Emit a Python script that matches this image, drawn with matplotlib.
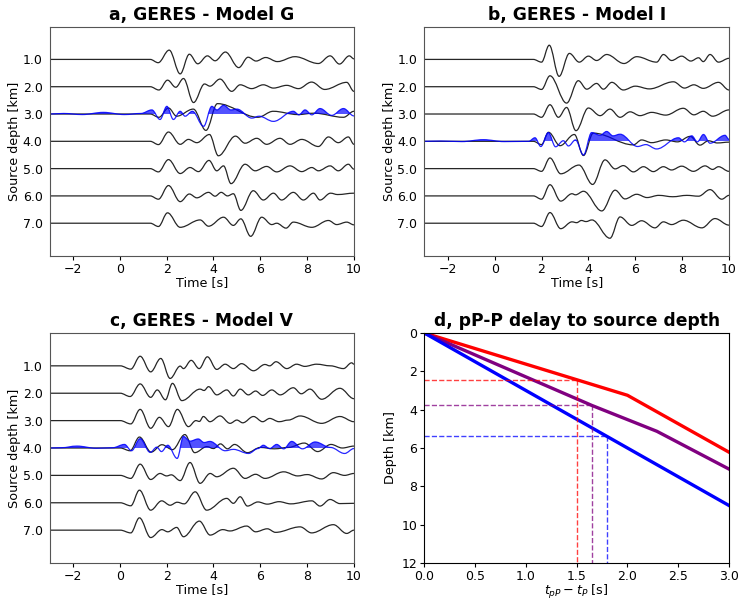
import matplotlib
matplotlib.use("Agg")
import matplotlib.pyplot as plt
from matplotlib.path import Path
from matplotlib.patches import PathPatch, Rectangle

# ---------------- data ----------------
depths = [1.0, 2.0, 3.0, 4.0, 5.0, 6.0, 7.0]
time_ticks = [-2, 0, 2, 4, 6, 8, 10]

# Panel a, GERES - Model G : synthetic traces (extrema times [s], amplitudes [trace spacing units])
a1_t = [-3, 1.30, 1.64, 2.11, 2.58, 2.97, 3.33, 3.74, 4.07, 4.51, 5.08, 5.48, 5.82, 6.23, 6.73, 7.48, 8.48, 8.98, 9.38, 9.80, 10.0]
a1_a = [0, 0, -0.12, 0.34, -0.53, 0.19, -0.16, 0.13, -0.05, 0.27, -0.30, 0.08, -0.06, 0.07, -0.08, 0.10, -0.15, 0.13, -0.17, 0.13, 0.02]
a2_t = [-3, 1.30, 1.67, 2.04, 2.39, 2.72, 3.15, 3.62, 3.85, 4.28, 4.78, 5.14, 5.63, 6.13, 6.56, 7.13, 7.63, 8.19, 8.75, 9.69, 10.0]
a2_a = [0, 0, -0.12, 0.24, -0.02, 0.30, -0.58, 0.10, 0.02, 0.28, -0.17, 0.07, -0.07, 0.07, -0.05, 0.05, -0.07, 0.17, -0.10, 0.16, -0.17]
a3_t = [-3, 1.30, 1.67, 2.08, 2.43, 3.14, 3.68, 4.17, 5.90, 6.55, 7.60, 8.30, 9.55, 10.0]
a3_a = [0, 0, -0.12, 0.22, -0.08, 0.18, -0.60, 0.38, -0.12, 0.10, -0.02, 0.03, -0.12, 0.10]
a4_t = [-3, 1.30, 1.65, 2.08, 2.58, 2.93, 3.29, 3.83, 4.21, 4.94, 5.35, 5.85, 6.27, 6.84, 7.27, 7.77, 8.48, 8.91, 9.33, 9.76, 10.0]
a4_a = [0, 0, -0.12, 0.34, -0.11, 0.07, -0.05, 0.25, -0.53, 0.19, -0.07, 0.11, -0.11, 0.11, -0.11, 0.07, -0.19, 0.16, -0.05, 0.16, -0.11]
a5_t = [-3, 1.30, 1.65, 2.08, 2.58, 3.00, 3.36, 3.81, 4.14, 4.43, 4.75, 5.35, 5.78, 6.27, 6.70, 7.27, 7.77, 8.20, 8.48, 8.98, 9.33, 9.76, 10.0]
a5_a = [0, 0, -0.12, 0.33, -0.18, 0.04, -0.11, 0.30, -0.08, 0.10, -0.55, 0.16, -0.08, 0.08, -0.12, 0.10, -0.11, 0.04, -0.08, 0.10, -0.08, 0.16, -0.02]
a6_t = [-3, 1.30, 1.65, 2.08, 2.58, 2.97, 3.29, 3.79, 4.07, 4.33, 4.60, 4.85, 5.17, 5.70, 6.13, 6.56, 6.91, 7.41, 7.84, 8.27, 8.55, 9.00, 9.30, 10.0]
a6_a = [0, 0, -0.12, 0.38, -0.21, 0.07, -0.07, 0.13, -0.01, 0.13, 0.00, 0.08, -0.53, 0.19, -0.15, 0.10, -0.15, 0.13, -0.15, 0.10, -0.15, 0.10, 0.05, 0.10]
a7_t = [-3, 1.30, 1.65, 2.04, 2.58, 3.43, 3.79, 4.43, 4.85, 5.17, 5.59, 6.06, 6.49, 6.70, 7.10, 7.41, 8.20, 8.91, 9.26, 9.69, 10.0]
a7_a = [0, 0, -0.12, 0.38, -0.15, 0.12, -0.11, 0.22, -0.08, 0.16, -0.48, 0.22, -0.05, 0.00, -0.18, 0.04, -0.15, 0.10, -0.05, 0.04, -0.06]
# observed GERES trace, panel a (plotted at 3 km)
a_obs_t = [-3, -2.4, -1.6, -0.7, 0.2, 0.9, 1.37, 1.72, 2.01, 2.29, 2.58, 2.79, 3.10, 3.58, 3.93, 4.15, 4.43, 4.75, 5.00, 5.64, 5.95, 6.56, 7.41, 7.65, 7.91, 8.20, 8.55, 9.05, 9.55, 10.0]
a_obs_a = [0, 0.02, -0.02, 0.06, -0.02, 0.02, 0.15, -0.20, 0.28, -0.20, 0.10, -0.08, 0.10, -0.45, 0.28, 0.15, 0.32, 0.15, 0.18, -0.15, -0.08, -0.27, 0.10, -0.03, 0.15, -0.03, 0.20, -0.05, 0.20, -0.07]

# Panel b, GERES - Model I
b1_t = [-3, 1.65, 2.00, 2.33, 2.75, 3.19, 3.61, 4.00, 4.35, 4.78, 5.52, 6.06, 6.91, 7.20, 7.55, 7.98, 8.37, 8.70, 8.90, 9.19, 9.55, 10.0]
b1_a = [0, 0, -0.10, 0.52, -0.62, 0.22, -0.10, 0.12, -0.04, 0.18, -0.15, 0.10, -0.10, 0.18, -0.04, 0.12, -0.06, 0.06, -0.08, 0.18, -0.10, 0.04]
b2_t = [-3, 1.65, 2.00, 2.36, 3.07, 3.57, 3.93, 4.35, 4.64, 5.00, 5.49, 6.00, 6.60, 7.63, 8.10, 8.50, 8.90, 9.55, 10.0]
b2_a = [0, 0, -0.10, 0.40, -0.60, 0.22, -0.09, 0.12, -0.09, 0.16, -0.12, 0.02, -0.08, 0.18, -0.05, 0.07, -0.06, 0.16, -0.12]
b3_t = [-3, 1.65, 2.00, 2.36, 2.72, 3.07, 3.47, 4.00, 4.50, 4.92, 5.35, 5.78, 6.20, 6.70, 7.30, 8.05, 8.50, 8.90, 9.30, 10.0]
b3_a = [0, 0, -0.12, 0.34, -0.12, 0.24, -0.61, 0.22, -0.06, 0.18, -0.12, 0.08, -0.06, 0.06, -0.04, 0.21, -0.03, 0.10, -0.08, 0.15]
b4_t = [-3, 1.65, 2.00, 2.30, 2.79, 3.40, 3.79, 4.21, 5.92, 6.27, 6.70, 7.30, 7.80, 8.34, 8.76, 9.12, 9.50, 10.0]
b4_a = [0, 0, -0.12, 0.33, -0.16, 0.25, -0.52, 0.30, -0.13, 0.05, -0.05, 0.05, -0.02, 0.18, -0.14, 0.02, -0.06, -0.03]
b5_t = [-3, 1.65, 2.00, 2.36, 2.82, 3.60, 4.18, 4.71, 5.14, 5.49, 5.92, 6.35, 6.77, 7.20, 7.55, 7.98, 8.48, 8.98, 9.30, 9.55, 10.0]
b5_a = [0, 0, -0.10, 0.39, -0.19, 0.13, -0.58, 0.32, -0.01, 0.11, -0.12, 0.07, -0.11, 0.07, -0.05, 0.09, -0.10, 0.10, -0.03, 0.07, -0.10]
b6_t = [-3, 1.65, 2.00, 2.36, 2.82, 3.30, 3.45, 3.79, 4.57, 5.14, 5.56, 6.06, 6.50, 7.00, 7.60, 8.20, 8.70, 9.19, 9.69, 10.0]
b6_a = [0, 0, -0.12, 0.41, -0.19, 0.08, 0.04, 0.17, -0.55, 0.21, -0.11, 0.06, -0.06, 0.02, -0.03, 0.02, -0.01, 0.23, -0.12, 0.02]
b7_t = [-3, 1.65, 2.00, 2.36, 2.82, 3.30, 3.50, 3.70, 3.90, 4.15, 4.92, 5.35, 5.85, 6.27, 6.84, 7.20, 7.55, 8.05, 8.84, 9.40, 10.0]
b7_a = [0, 0, -0.12, 0.39, -0.20, 0.05, 0.02, 0.10, 0.06, 0.12, -0.55, 0.23, -0.08, 0.09, -0.17, 0.05, -0.05, 0.11, -0.17, 0.17, -0.07]
b_obs_t = [-3, -2.3, -1.4, -0.48, 0.4, 1.45, 1.72, 1.97, 2.29, 2.60, 2.93, 3.15, 3.45, 3.79, 4.14, 4.50, 4.78, 5.05, 5.35, 6.10, 6.45, 6.91, 7.84, 8.10, 8.41, 8.65, 8.91, 9.19, 9.83, 10.0]
b_obs_a = [0, 0.01, -0.01, 0.06, -0.01, 0.0, 0.13, -0.19, 0.32, -0.20, 0.02, -0.17, 0.05, -0.50, 0.32, 0.22, 0.36, 0.20, 0.26, -0.19, -0.12, -0.28, 0.13, -0.02, 0.20, -0.02, 0.25, -0.07, 0.22, 0.07]

# Panel c, GERES - Model V
c1_t = [-3, 0.02, 0.47, 0.87, 1.32, 1.75, 2.15, 2.58, 2.72, 3.05, 3.39, 3.74, 4.14, 4.50, 4.85, 5.20, 5.71, 6.20, 6.40, 6.67, 7.13, 7.55, 7.90, 8.40, 9.00, 9.55, 9.90, 10.0]
c1_a = [0, 0, -0.12, 0.35, -0.22, 0.27, -0.46, -0.01, -0.10, 0.20, -0.10, 0.33, -0.13, 0.06, -0.10, 0.08, -0.18, 0.05, 0.00, 0.15, -0.10, 0.06, -0.02, 0.06, 0.00, -0.10, 0.11, 0.06]
c2_t = [-3, 0.02, 0.44, 0.87, 1.32, 1.60, 1.95, 2.25, 2.65, 3.43, 3.60, 3.79, 4.14, 4.57, 4.85, 5.14, 5.49, 5.80, 6.10, 6.49, 6.85, 7.41, 7.75, 8.12, 8.62, 9.40, 10.0]
c2_a = [0, 0, -0.12, 0.34, -0.15, 0.12, -0.24, 0.36, -0.27, 0.15, 0.10, 0.24, -0.06, 0.12, -0.10, 0.15, -0.06, 0.08, -0.08, 0.12, -0.06, 0.20, -0.02, 0.15, -0.22, 0.18, -0.20]
c3_t = [-3, 0.02, 0.47, 0.87, 1.32, 1.69, 2.08, 2.46, 2.93, 3.25, 3.40, 3.57, 3.85, 4.28, 4.71, 5.00, 5.25, 5.71, 6.10, 6.40, 6.80, 7.20, 7.70, 8.62, 9.40, 10.0]
c3_a = [0, 0, -0.12, 0.41, -0.28, 0.12, -0.22, 0.41, -0.22, 0.00, -0.03, 0.15, -0.04, 0.17, -0.10, 0.02, -0.08, 0.15, -0.04, 0.08, -0.04, 0.02, 0.17, -0.10, 0.15, -0.04]
c4_t = [-3, 0.02, 0.44, 0.84, 1.34, 1.80, 2.25, 2.78, 3.20, 3.72, 4.00, 4.30, 4.60, 4.90, 5.45, 6.00, 6.60, 7.20, 7.88, 8.45, 9.02, 9.50, 10.0]
c4_a = [0, 0, -0.10, 0.40, -0.15, 0.12, -0.06, 0.49, -0.17, 0.05, -0.02, 0.15, -0.03, 0.13, -0.17, 0.02, -0.03, 0.02, 0.18, -0.13, 0.13, 0.00, 0.07]
c5_t = [-3, 0.02, 0.47, 0.87, 1.32, 1.72, 2.00, 2.20, 2.58, 3.00, 3.43, 3.86, 4.14, 4.85, 5.35, 5.80, 6.20, 7.00, 7.60, 8.00, 8.62, 9.12, 9.60, 10.0]
c5_a = [0, 0, -0.11, 0.41, -0.15, 0.07, -0.02, 0.02, -0.19, 0.47, -0.29, 0.07, -0.05, 0.26, -0.11, 0.04, -0.11, 0.13, -0.02, 0.03, -0.13, 0.10, 0.00, 0.07]
c6_t = [-3, 0.02, 0.47, 0.84, 1.32, 1.79, 2.15, 2.45, 2.75, 3.22, 3.71, 4.57, 4.85, 5.14, 5.45, 5.90, 6.30, 6.80, 7.30, 8.20, 8.55, 8.98, 9.40, 10.0]
c6_a = [0, 0, -0.11, 0.46, -0.27, 0.07, -0.09, 0.02, -0.04, 0.40, -0.27, 0.16, -0.02, 0.22, -0.12, 0.03, -0.05, 0.04, -0.04, 0.07, -0.12, 0.12, -0.03, -0.02]
c7_t = [-3, 0.02, 0.47, 0.84, 1.32, 1.80, 2.05, 2.43, 2.72, 3.40, 3.86, 4.40, 4.70, 5.42, 5.80, 6.30, 6.65, 7.70, 8.19, 9.12, 9.69, 10.0]
c7_a = [0, 0, -0.10, 0.45, -0.27, 0.02, -0.06, 0.10, -0.24, 0.33, -0.18, 0.02, -0.03, 0.15, -0.06, 0.05, -0.08, 0.12, -0.10, 0.20, -0.12, 0.00]
c_obs_t = [-3, -2.5, -1.83, -1.0, -0.3, 0.20, 0.50, 0.87, 1.30, 1.58, 1.78, 2.05, 2.45, 2.72, 3.00, 3.35, 3.60, 3.85, 4.50, 4.85, 5.50, 5.90, 6.13, 6.40, 6.70, 7.00, 7.34, 7.80, 8.34, 9.00, 9.60, 10.0]
c_obs_a = [0, 0.01, 0.07, -0.01, 0.01, 0.13, -0.10, 0.34, -0.16, 0.03, -0.13, 0.10, -0.38, 0.42, 0.25, 0.33, 0.20, 0.24, -0.10, -0.05, -0.20, -0.02, 0.10, -0.02, 0.13, -0.03, 0.24, -0.03, 0.22, 0.02, -0.20, -0.02]

# Panel d, pP-P delay to source depth
delay_red = [0.0, 2.0, 3.0]
depth_red = [0.0, 3.25, 6.22]
delay_purple = [0.0, 1.65, 2.29, 3.0]
depth_purple = [0.0, 3.78, 5.13, 7.10]
delay_blue = [0.0, 3.0]
depth_blue = [0.0, 9.0]
pick_delays = [1.5, 1.65, 1.8]
pick_depths = [2.45, 3.78, 5.40]
pick_colors = ["red", "purple", "blue"]

panels = [
    ("a, GERES - Model G", [(a1_t, a1_a), (a2_t, a2_a), (a3_t, a3_a), (a4_t, a4_a), (a5_t, a5_a), (a6_t, a6_a), (a7_t, a7_a)], (a_obs_t, a_obs_a), 3.0),
    ("b, GERES - Model I", [(b1_t, b1_a), (b2_t, b2_a), (b3_t, b3_a), (b4_t, b4_a), (b5_t, b5_a), (b6_t, b6_a), (b7_t, b7_a)], (b_obs_t, b_obs_a), 4.0),
    ("c, GERES - Model V", [(c1_t, c1_a), (c2_t, c2_a), (c3_t, c3_a), (c4_t, c4_a), (c5_t, c5_a), (c6_t, c6_a), (c7_t, c7_a)], (c_obs_t, c_obs_a), 4.0),
]

# ---------------- drawing ----------------
plt.rcParams["font.family"] = ["DejaVu Sans"]
FS = 9.0
LFS = 9.2
TFS = 12.3


def smooth_path(times, amps, base):
    """Cubic Bezier path through trace extrema (horizontal tangents at each extremum)."""
    verts = [(times[0], base - amps[0])]
    codes = [Path.MOVETO]
    for i in range(1, len(times)):
        t0, a0 = times[i - 1], amps[i - 1]
        t1, a1 = times[i], amps[i]
        d = (t1 - t0) * 0.36
        verts += [(t0 + d, base - a0), (t1 - d, base - a1), (t1, base - a1)]
        codes += [Path.CURVE4] * 3
    return verts, codes


fig = plt.figure(figsize=(7.39, 6.03), dpi=100)
positions = [
    [0.0670, 0.5755, 0.4120, 0.3803],
    [0.5742, 0.5755, 0.4123, 0.3803],
    [0.0670, 0.0663, 0.4120, 0.3815],
]

for pos, (title, traces, obs, obs_depth) in zip(positions, panels):
    ax = fig.add_axes(pos)
    for dep, (tt, aa) in zip(depths, traces):
        v, c = smooth_path(tt, aa, dep)
        ax.add_patch(PathPatch(Path(v, c), fill=False, edgecolor="black", lw=0.9, alpha=0.85))
    ot, oa = obs
    v, c = smooth_path(ot, oa, obs_depth)
    fv = v + [(ot[-1], obs_depth), (ot[0], obs_depth), (ot[0], obs_depth)]
    fc = c + [Path.LINETO, Path.LINETO, Path.CLOSEPOLY]
    fill = PathPatch(Path(fv, fc), facecolor="blue", edgecolor="none", alpha=0.68)
    ax.add_patch(fill)
    clip = Rectangle((-3, obs_depth - 2), 13, 2, transform=ax.transData)
    fill.set_clip_path(clip)
    ax.add_patch(PathPatch(Path(v, c), fill=False, edgecolor="blue", lw=0.9, alpha=0.85))
    ax.set_xlim(-3, 10)
    ax.set_ylim(8.2, -0.2)
    ax.set_xticks(time_ticks)
    ax.set_yticks(depths)
    ax.set_yticklabels([f"{d:.1f}" for d in depths])
    ax.tick_params(axis="y", length=0, pad=5, labelsize=FS)
    ax.tick_params(axis="x", labelsize=FS, length=3, pad=2)
    ax.set_xlabel("Time [s]", fontsize=LFS, labelpad=0)
    ax.set_ylabel("Source depth [km]", fontsize=LFS, labelpad=1)
    ax.set_title(title, fontsize=TFS, fontweight="bold", pad=5)
    for sp in ax.spines.values():
        sp.set_color("#555555")

axd = fig.add_axes([0.5742, 0.0663, 0.4123, 0.3815])
axd.plot(delay_red, depth_red, color="red", lw=2.4)
axd.plot(delay_purple, depth_purple, color="purple", lw=2.4)
axd.plot(delay_blue, depth_blue, color="blue", lw=2.4)
for pt, pd, pc in zip(pick_delays, pick_depths, pick_colors):
    axd.plot([0, pt], [pd, pd], "--", color=pc, lw=1.0, alpha=0.75)
    axd.plot([pt, pt], [pd, 12], "--", color=pc, lw=1.0, alpha=0.75)
axd.set_xlim(0, 3)
axd.set_ylim(12, 0)
axd.set_xticks([0.0, 0.5, 1.0, 1.5, 2.0, 2.5, 3.0])
axd.set_yticks([0, 2, 4, 6, 8, 10, 12])
axd.tick_params(labelsize=FS, length=3, pad=2)
axd.set_xlabel("$t_{pP} - t_P$ [s]", fontsize=LFS, labelpad=0)
axd.set_ylabel("Depth [km]", fontsize=LFS, labelpad=3)
axd.set_title("d, pP-P delay to source depth", fontsize=TFS, fontweight="bold", pad=5)

fig.savefig("out.png", dpi=100)
